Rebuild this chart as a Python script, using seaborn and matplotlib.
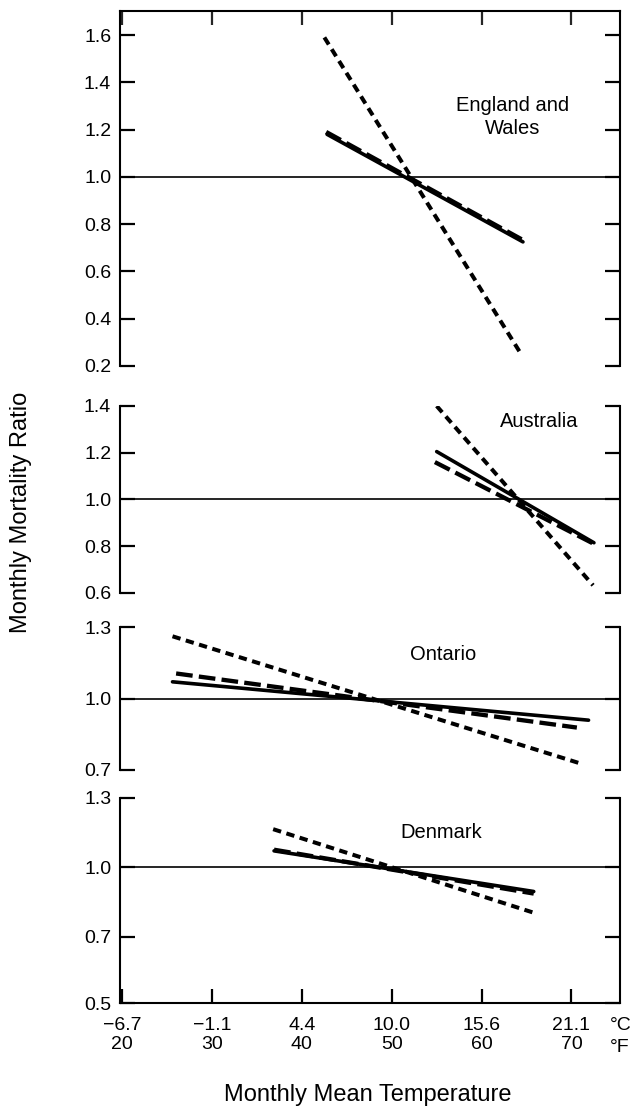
import numpy as np
import pandas as pd
import seaborn as sns
import matplotlib
matplotlib.use('Agg')
import matplotlib.pyplot as plt

# Regression lines (monthly mean temperature in deg F -> monthly mortality ratio),
# two end points per line
ew_solid_f = [42.8, 64.6]
ew_solid_r = [1.18, 0.725]
ew_long_f = [42.7, 64.5]
ew_long_r = [1.19, 0.735]
ew_short_f = [42.5, 64.4]
ew_short_r = [1.59, 0.25]

au_solid_f = [55.0, 72.5]
au_solid_r = [1.205, 0.815]
au_long_f = [54.8, 72.5]
au_long_r = [1.16, 0.81]
au_short_f = [55.0, 72.4]
au_short_r = [1.40, 0.633]

on_solid_f = [25.6, 71.9]
on_solid_r = [1.07, 0.909]
on_long_f = [26.0, 70.6]
on_long_r = [1.105, 0.878]
on_short_f = [25.6, 71.2]
on_short_r = [1.261, 0.725]

dk_solid_f = [36.9, 65.8]
dk_solid_r = [1.071, 0.895]
dk_long_f = [36.9, 65.8]
dk_long_r = [1.076, 0.886]
dk_short_f = [36.8, 65.8]
dk_short_r = [1.165, 0.803]

regions = ['England and Wales', 'Australia', 'Ontario', 'Denmark']
region_labels = ['England and\nWales', 'Australia', 'Ontario', 'Denmark']
label_pos_f = [63.4, 66.4, 55.7, 55.5]
label_pos_r = [1.253, 1.332, 1.183, 1.15]

ytick_sets = [
    [0.2, 0.4, 0.6, 0.8, 1.0, 1.2, 1.4, 1.6],
    [0.6, 0.8, 1.0, 1.2, 1.4],
    [0.7, 1.0, 1.3],
    [0.5, 0.7, 1.0, 1.3],
]
ylims = [(0.2, 1.703), (0.6, 1.4), (0.7, 1.3), (0.5, 1.3)]

xticks_f = [20, 30, 40, 50, 60, 70]
xticks_c = ['\u22126.7', '\u22121.1', '4.4', '10.0', '15.6', '21.1']

rows = []
for region, pref in zip(regions, ['ew', 'au', 'on', 'dk']):
    for line in ['solid', 'long', 'short']:
        fs = globals()[f'{pref}_{line}_f']
        rs = globals()[f'{pref}_{line}_r']
        for f, r in zip(fs, rs):
            rows.append({'region': region, 'line': line, 'temp_f': f, 'ratio': r})
df = pd.DataFrame(rows)

sns.set_theme(style='white')
plt.rcParams['font.family'] = ['Liberation Sans', 'DejaVu Sans']
plt.rcParams['lines.scale_dashes'] = False
plt.rcParams['axes.edgecolor'] = 'black'
plt.rcParams['axes.linewidth'] = 1.5
plt.rcParams['text.color'] = 'black'

DASHES = {'solid': '', 'long': (12, 4.5), 'short': (6, 4)}
WIDTHS = {'solid': 2.6, 'long': 3.1, 'short': 2.9}

W, H = 635, 1108
fig = plt.figure(figsize=(W / 100, H / 100), dpi=100)

x_left, x_right = 119.5, 620
# (top, bottom) pixel rows of each panel
panel_px = [(10.7, 366), (406, 593), (627, 770), (798, 1003)]


def fwd(y):
    y = np.asarray(y, dtype=float)
    return np.where(y >= 0.7, y, 0.7 - (0.7 - y) * 1.44)


def inv(u):
    u = np.asarray(u, dtype=float)
    return np.where(u >= 0.7, u, 0.7 - (0.7 - u) / 1.44)


axes = []
for i, region in enumerate(regions):
    top, bot = panel_px[i]
    ax = fig.add_axes([x_left / W, 1 - bot / H, (x_right - x_left) / W, (bot - top) / H])
    axes.append(ax)
    if region == 'Denmark':
        ax.set_yscale('function', functions=(fwd, inv))

    sub = df[df['region'] == region]
    sns.lineplot(
        data=sub, x='temp_f', y='ratio',
        style='line', size='line',
        dashes=DASHES, sizes=WIDTHS,
        color='black', legend=False, errorbar=None,
        ax=ax,
    )
    ax.axhline(1.0, color='black', lw=1.2, zorder=1)

    ax.set_xlim(19.7, 75.4)
    ax.set_ylim(*ylims[i])
    ax.set_yticks(ytick_sets[i])
    ax.set_yticklabels([f'{t:.1f}' for t in ytick_sets[i]])
    ax.set_xlabel('')
    ax.set_ylabel('')
    ax.set_xticks(xticks_f)

    ax.tick_params(axis='y', which='both', direction='in', length=10.5, width=1.6,
                   left=True, right=True, labelsize=14, pad=6, colors='black')
    ax.minorticks_off()

    ax.spines['left'].set_visible(True)
    ax.spines['right'].set_visible(True)
    ax.spines['top'].set_visible(i == 0)
    ax.spines['bottom'].set_visible(i == len(regions) - 1)

    if i == 0:
        ax.tick_params(axis='x', direction='in', length=10, width=1.6,
                       top=True, bottom=False, labeltop=False, labelbottom=False)
    elif i == len(regions) - 1:
        ax.set_xticklabels([f'{c}\n{f}' for c, f in zip(xticks_c, xticks_f)])
        ax.tick_params(axis='x', direction='in', length=10, width=1.6,
                       top=False, bottom=True, labelsize=14, pad=10, colors='black')
    else:
        ax.tick_params(axis='x', bottom=False, top=False, labelbottom=False)

    ax.text(label_pos_f[i], label_pos_r[i], region_labels[i], ha='center', va='center',
            fontsize=14.5, linespacing=1.25, color='black')

fig.text(610 / W, 1 - 1026 / H, '\u00b0C', ha='left', va='center', fontsize=14)
fig.text(610 / W, 1 - 1047 / H, '\u00b0F', ha='left', va='center', fontsize=14)
fig.text(368 / W, 1 - 1095 / H, 'Monthly Mean Temperature', ha='center', va='center', fontsize=17)
fig.text(21 / W, 1 - 512 / H, 'Monthly Mortality Ratio', ha='center', va='center',
         rotation=90, fontsize=17)

fig.savefig('out.png', dpi=100, facecolor='white')
